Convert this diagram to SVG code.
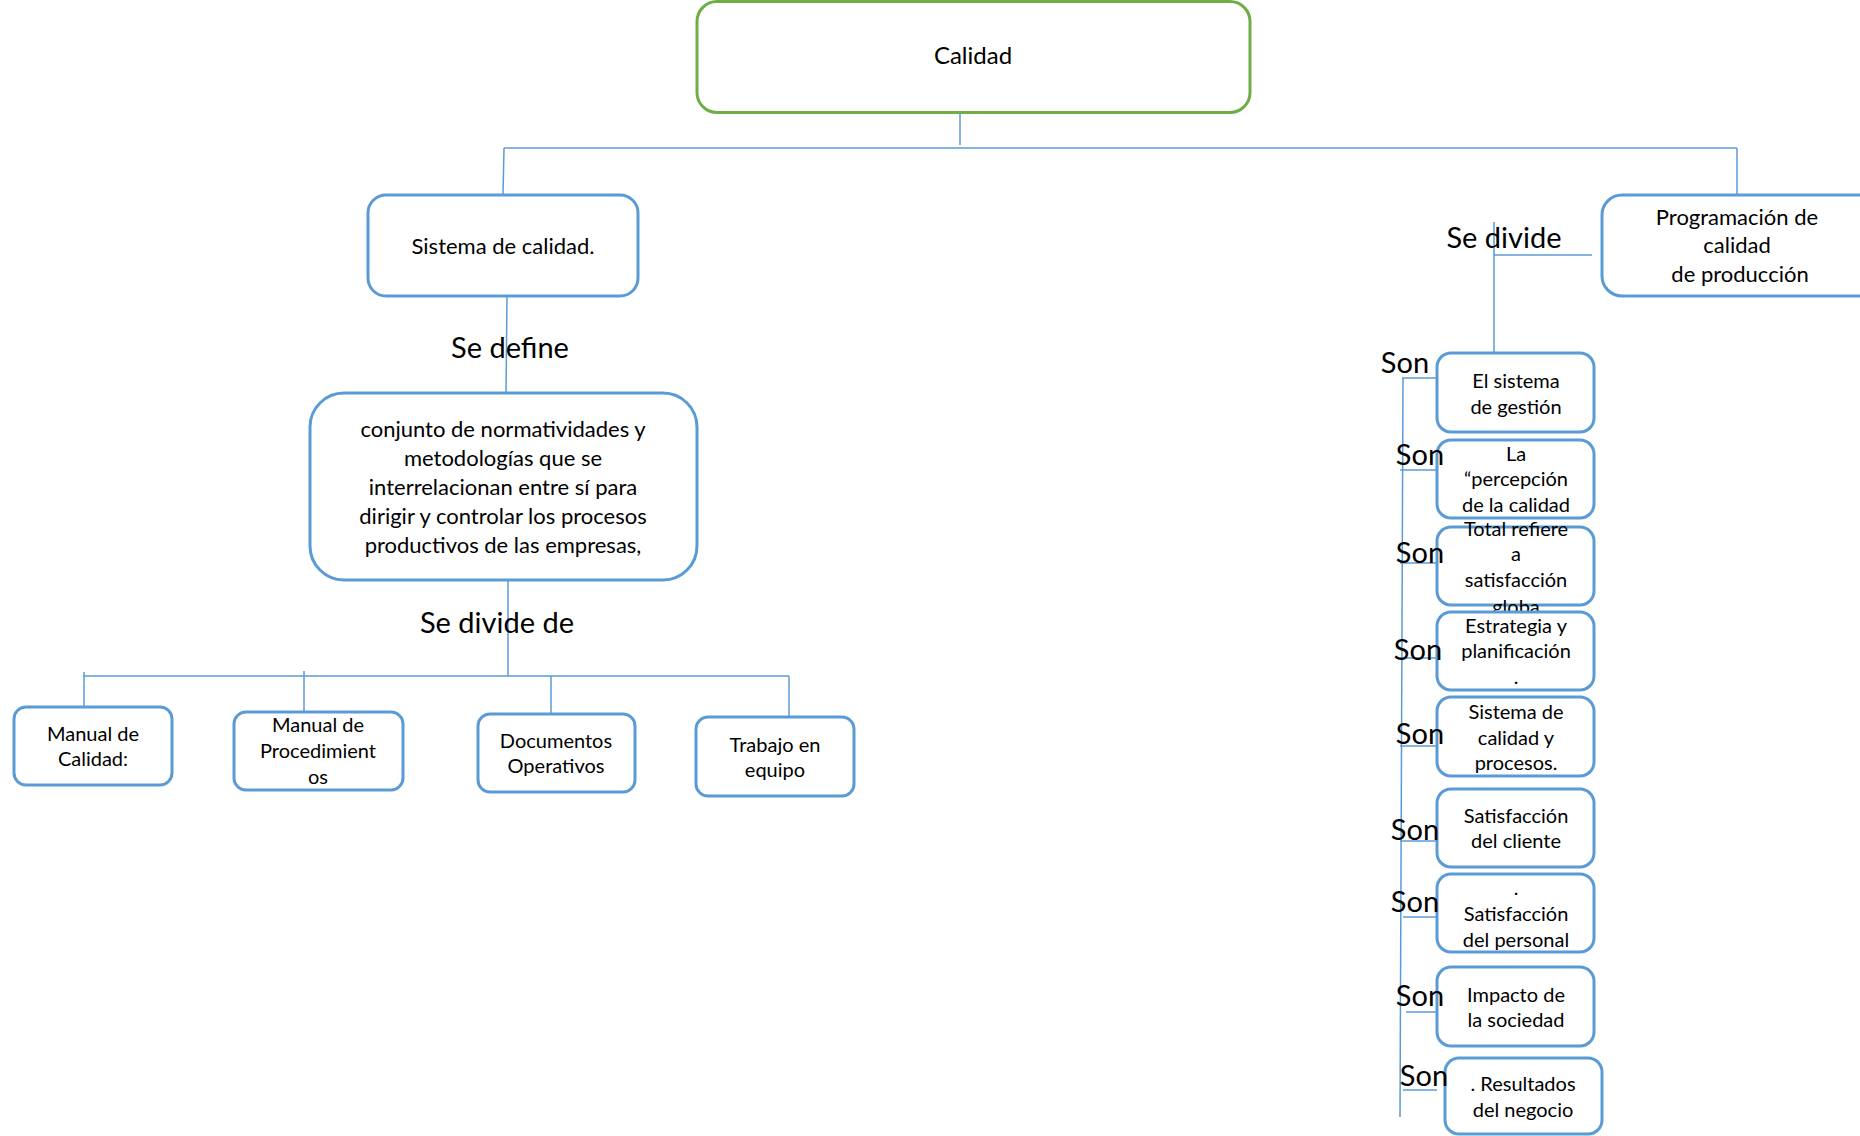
<svg xmlns="http://www.w3.org/2000/svg" width="1860" height="1136" viewBox="0 0 1860 1136">
<style>
.bx{fill:#fff;stroke:#5B9BD5;stroke-width:3}
.gb{fill:#fff;stroke:#70AD47;stroke-width:3}
.ln{fill:none;stroke:#5B9BD5;stroke-width:1.5}
text{font-family:Lato,"Liberation Sans",sans-serif;fill:#000;text-anchor:middle}
.t{font-size:20px}
.m{font-size:22px}
.big{font-size:29px}
</style>
<rect width="1860" height="1136" fill="#fff"/>
<g id="connectors">
<path class="ln" d="M960 113V145"/>
<path class="ln" d="M504 148H1737"/>
<path class="ln" d="M504 148L503 195"/>
<path class="ln" d="M1737 148V195"/>
<path class="ln" d="M507 296L506 392"/>
<path class="ln" d="M508 580V676"/>
<path class="ln" d="M83 676H789"/>
<path class="ln" d="M84 672V712"/>
<path class="ln" d="M304 671V712"/>
<path class="ln" d="M551 676V714"/>
<path class="ln" d="M789 676V717"/>
<path class="ln" d="M1494 222V353"/>
<path class="ln" d="M1494 255H1592"/>
<path class="ln" d="M1403 378L1400 1117"/>
<path class="ln" d="M1402 378H1445"/>
<path class="ln" d="M1400 470H1437"/>
<path class="ln" d="M1400 563H1437"/>
<path class="ln" d="M1400 658H1437"/>
<path class="ln" d="M1400 746H1437"/>
<path class="ln" d="M1400 841H1437"/>
<path class="ln" d="M1403 917H1437"/>
<path class="ln" d="M1406 1012H1437"/>
<path class="ln" d="M1403 1090H1437"/>
</g>
<g id="calidad">
<rect class="gb" x="697" y="1.5" width="553" height="111" rx="20"/>
<text class="m" x="973" y="64" style="font-size:24px">Calidad</text>
</g>
<g id="sistema">
<rect class="bx" x="368" y="195" width="270" height="101" rx="18"/>
<text class="m" x="503" y="254">Sistema de calidad.</text>
</g>
<text class="big" x="510" y="358">Se define</text>
<g id="conjunto">
<rect class="bx" x="310" y="393" width="387" height="187" rx="34"/>
<text class="m" x="503" y="437">conjunto de normatividades y</text>
<text class="m" x="503" y="466">metodologías que se</text>
<text class="m" x="503" y="495">interrelacionan entre sí para</text>
<text class="m" x="503" y="524">dirigir y controlar los procesos</text>
<text class="m" x="503" y="553">productivos de las empresas,</text>
</g>
<text class="big" x="497" y="633">Se divide de</text>
<g id="manual-calidad">
<rect class="bx" x="14" y="707" width="158" height="78" rx="12"/>
<text class="t" x="93" y="741">Manual de</text>
<text class="t" x="93" y="766">Calidad:</text>
</g>
<g id="manual-procedimientos">
<rect class="bx" x="234" y="712" width="169" height="78" rx="12"/>
<text class="t" x="318" y="732">Manual de</text>
<text class="t" x="318" y="758">Procedimient</text>
<text class="t" x="318" y="784">os</text>
</g>
<g id="documentos">
<rect class="bx" x="478" y="714" width="157" height="78" rx="12"/>
<text class="t" x="556" y="748">Documentos</text>
<text class="t" x="556" y="773">Operativos</text>
</g>
<g id="trabajo">
<rect class="bx" x="696" y="717" width="158" height="79" rx="12"/>
<text class="t" x="775" y="752">Trabajo en</text>
<text class="t" x="775" y="777">equipo</text>
</g>
<g id="programacion">
<rect class="bx" x="1602" y="195" width="280" height="101" rx="20"/>
<text class="m" x="1737" y="225">Programación de</text>
<text class="m" x="1737" y="253">calidad</text>
<text class="m" x="1740" y="282">de producción</text>
</g>
<text class="big" x="1504" y="248">Se divide</text>
<g id="r1">
<rect class="bx" x="1437" y="353" width="157" height="79" rx="14"/>
<text class="t" x="1516" y="388">El sistema</text>
<text class="t" x="1516" y="414">de gestión</text>
</g>
<g id="r2">
<rect class="bx" x="1437" y="440" width="157" height="78" rx="14"/>
<text class="t" x="1516" y="461">La</text>
<text class="t" x="1516" y="486">“percepción</text>
<text class="t" x="1516" y="512">de la calidad</text>
</g>
<g id="r3">
<rect class="bx" x="1437" y="527" width="157" height="78" rx="14"/>
<text class="t" x="1516" y="536">Total refiere</text>
<text class="t" x="1516" y="561">a</text>
<text class="t" x="1516" y="587">satisfacción</text>
<text class="t" x="1516" y="614">globa</text>
</g>
<g id="r4">
<rect class="bx" x="1437" y="612" width="157" height="78" rx="14"/>
<text class="t" x="1516" y="633">Estrategia y</text>
<text class="t" x="1516" y="658">planificación</text>
<text class="t" x="1516" y="684">.</text>
</g>
<g id="r5">
<rect class="bx" x="1437" y="697" width="157" height="79" rx="14"/>
<text class="t" x="1516" y="719">Sistema de</text>
<text class="t" x="1516" y="745">calidad y</text>
<text class="t" x="1516" y="770">procesos.</text>
</g>
<g id="r6">
<rect class="bx" x="1437" y="789" width="157" height="78" rx="14"/>
<text class="t" x="1516" y="823">Satisfacción</text>
<text class="t" x="1516" y="848">del cliente</text>
</g>
<g id="r7">
<rect class="bx" x="1437" y="874" width="157" height="78" rx="14"/>
<text class="t" x="1516" y="895">.</text>
<text class="t" x="1516" y="921">Satisfacción</text>
<text class="t" x="1516" y="947">del personal</text>
</g>
<g id="r8">
<rect class="bx" x="1437" y="967" width="157" height="79" rx="14"/>
<text class="t" x="1516" y="1002">Impacto de</text>
<text class="t" x="1516" y="1027">la sociedad</text>
</g>
<g id="r9">
<rect class="bx" x="1445" y="1058" width="157" height="76" rx="14"/>
<text class="t" x="1523" y="1091">. Resultados</text>
<text class="t" x="1523" y="1117">del negocio</text>
</g>
<g id="son-labels">
<text class="big" x="1405" y="373">Son</text>
<text class="big" x="1420" y="465">Son</text>
<text class="big" x="1420" y="563">Son</text>
<text class="big" x="1418" y="660">Son</text>
<text class="big" x="1420" y="744">Son</text>
<text class="big" x="1415" y="840">Son</text>
<text class="big" x="1415" y="912">Son</text>
<text class="big" x="1420" y="1006">Son</text>
<text class="big" x="1424" y="1086">Son</text>
</g>
</svg>
